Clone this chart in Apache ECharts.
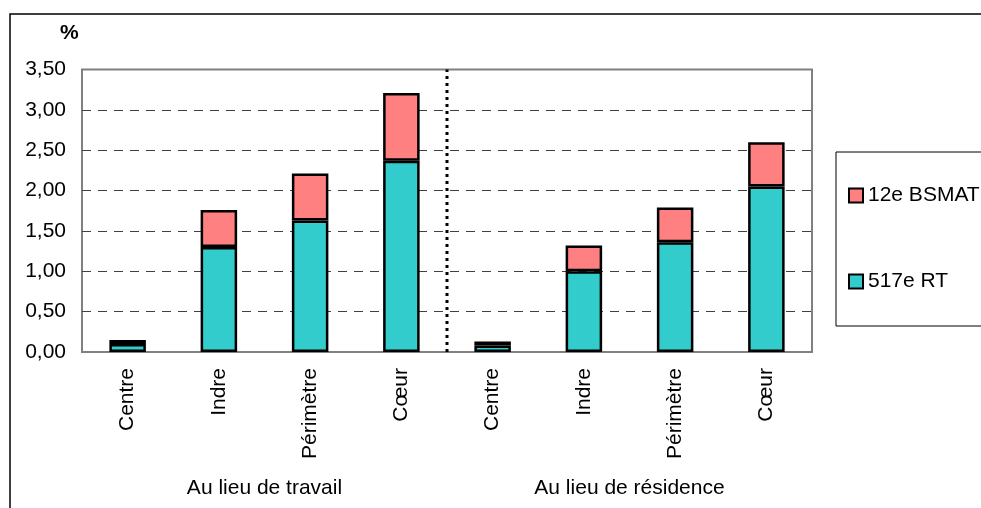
<!DOCTYPE html>
<html>
<head>
<meta charset="utf-8">
<title>chart</title>
<script src="https://cdn.jsdelivr.net/npm/echarts@6/dist/echarts.min.js"></script>
<style>
  html, body { margin: 0; padding: 0; background: #fff; }
  #chart { width: 981px; height: 508px; }
</style>
</head>
<body>
<div id="chart"></div>
<script>
  // categories
  const categories = ['Centre', 'Indre', 'Périmètre', 'Cœur', 'Centre', 'Indre', 'Périmètre', 'Cœur'];
  const groups = ['Au lieu de travail', 'Au lieu de résidence'];
  // series values (%)
  const rt517 = [0.10, 1.30, 1.63, 2.37, 0.08, 1.00, 1.36, 2.05];
  const bsmat12 = [0.05, 0.46, 0.58, 0.84, 0.05, 0.32, 0.43, 0.55];
  // separator between the two groups (category boundary index)
  const separatorAt = 4;
  const yMax = 3.5;

  const font = "'Liberation Sans', Arial, sans-serif";
  const fs = 21;
  const chart = echarts.init(document.getElementById('chart'));

  chart.setOption({
    animation: false,
    textStyle: { fontFamily: font, color: '#000' },
    title: {
      text: '%', left: 60, top: 23, padding: 0,
      textStyle: { fontFamily: font, fontSize: fs, fontWeight: 'bold', color: '#000' }
    },
    graphic: [{
      // outer frame
      type: 'rect', silent: true,
      shape: { x: 10, y: 14, width: 1200, height: 800 },
      style: { fill: 'none', stroke: '#000', lineWidth: 1.5 }
    }],
    legend: {
      orient: 'vertical',
      left: 836, top: 152,
      padding: [33, 60, 34, 12],
      itemGap: 65,
      itemWidth: 14, itemHeight: 14,
      borderColor: '#000', borderWidth: 1,
      icon: 'rect',
      data: ['12e BSMAT', '517e RT'],
      textStyle: { fontFamily: font, fontSize: fs, color: '#000' }
    },
    grid: {
      left: 82, right: 169, top: 69.5, bottom: 156,
      show: true, borderColor: '#808080', borderWidth: 2
    },
    xAxis: [{
      type: 'category',
      data: categories,
      axisLine: { show: false },
      axisTick: { show: false },
      axisLabel: { rotate: 90, margin: 16, fontSize: fs, color: '#000', fontFamily: font, interval: 0 }
    }, {
      type: 'category',
      data: groups,
      position: 'bottom',
      axisLine: { show: false },
      axisTick: { show: false },
      axisLabel: { margin: 126, fontSize: fs, color: '#000', fontFamily: font, interval: 0 }
    }, {
      type: 'value', min: 0, max: categories.length, show: false
    }],
    yAxis: {
      type: 'value',
      min: 0, max: yMax, interval: 0.5,
      axisLine: { show: false },
      axisTick: { show: false },
      axisLabel: {
        margin: 16, fontSize: fs, color: '#000', fontFamily: font,
        formatter: v => v.toFixed(2).replace('.', ',')
      },
      splitLine: {
        show: true, showMinLine: false, showMaxLine: false,
        lineStyle: { color: '#404040', width: 1, type: [9, 7] }
      }
    },
    series: [{
      name: '517e RT',
      type: 'bar',
      stack: 'total',
      barWidth: '40%',
      data: rt517,
      itemStyle: { color: '#33CCCC', borderColor: '#000', borderWidth: 2.5 }
    }, {
      name: '12e BSMAT',
      type: 'bar',
      stack: 'total',
      barWidth: '40%',
      data: bsmat12,
      itemStyle: { color: '#FF8080', borderColor: '#000', borderWidth: 2.5 }
    }, {
      // dotted separator
      type: 'line',
      xAxisIndex: 2,
      symbol: 'none',
      silent: true,
      data: [[separatorAt, 0], [separatorAt, yMax]],
      lineStyle: { color: '#000', width: 3, type: [3, 4] },
      z: 1
    }]
  });
</script>
</body>
</html>
